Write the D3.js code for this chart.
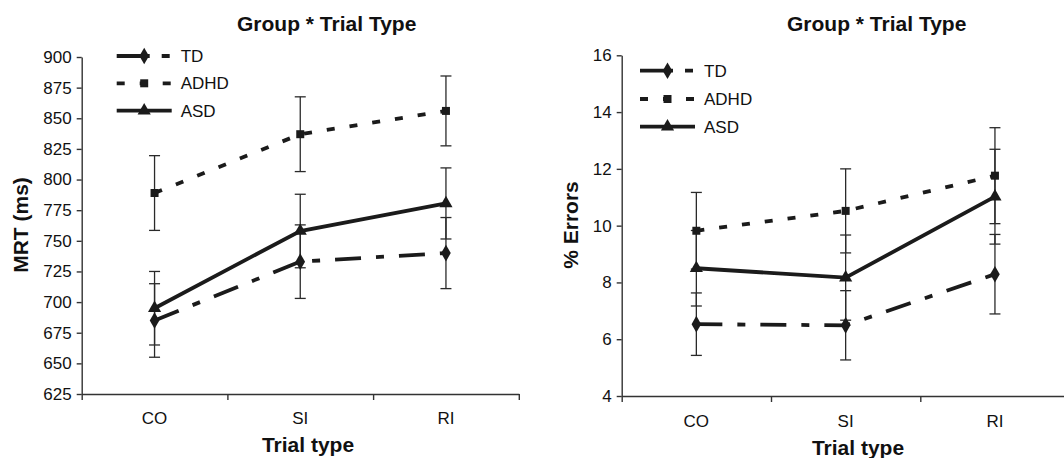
<!DOCTYPE html>
<html>
<head>
<meta charset="utf-8">
<script src="https://cdn.jsdelivr.net/npm/d3@7"></script>
<style>
body{margin:0;background:#fff}
svg{display:block;font-family:"Liberation Sans",Arial,sans-serif}
.axis path,.axis line{stroke:#333;stroke-width:1.4}
.axis text{font-size:17px;fill:#111;font-family:"Liberation Sans",Arial,sans-serif}
</style>
</head>
<body>
<div id="chart"></div>
<script>
var categories = ["CO","SI","RI"]
var groups = ["TD","ADHD","ASD"]

// left panel: mean reaction time (ms)
var rtTicks = [625,650,675,700,725,750,775,800,825,850,875,900]
var rtTD = [685,733,740]
var rtTDErr = [30,30,29]
var rtADHD = [789,837,856]
var rtADHDErr = [30.5,30.5,28.5]
var rtASD = [695,758,780.5]
var rtASDErr = [30,30,29]

// right panel: % errors
var errTicks = [4,6,8,10,12,14,16]
var errTD = [6.53,6.49,8.29]
var errTDErr = [1.1,1.22,1.4]
var errADHD = [9.82,10.52,11.76]
var errADHDErr = [1.35,1.48,1.69]
var errASD = [8.5,8.17,11.02]
var errASDErr = [1.33,1.5,1.67]

var width = 1064, height = 458
var ink = "#1b1b1b"
var styles = {
    "TD":{dash:"26,15,8,15",legendDash:"33,12,8,60",marker:d3.symbolDiamond,size:80},
    "ADHD":{dash:"8,15",legendDash:"8,15",marker:d3.symbolSquare,size:64},
    "ASD":{dash:null,legendDash:null,marker:d3.symbolTriangle,size:75}
}

var svg = d3.select("#chart").append("svg").attr("width",width).attr("height",height)

function drawPanel(p){
    var x = d3.scaleBand().domain(categories).range([p.left,p.left+p.band*3])
    var xEdge = d3.scaleLinear().domain([0,3]).range([p.left,p.left+p.band*3])
    var y = d3.scaleLinear().domain([p.ticks[0],p.ticks[p.ticks.length-1]]).range([p.bottom,p.top])
    var g = svg.append("g")

    var yAxis = d3.axisLeft(y).tickValues(p.ticks).tickSize(5).tickPadding(5).tickSizeOuter(0)
    g.append("g").attr("class","axis").attr("transform","translate("+p.left+",0)").call(yAxis)

    var xAxis = d3.axisBottom(xEdge).tickValues([0,1,2,3]).tickFormat("").tickSize(6).tickSizeOuter(0)
    g.append("g").attr("class","axis").attr("transform","translate(0,"+p.bottom+")").call(xAxis)

    g.selectAll(".cat").data(categories).enter().append("text")
        .attr("x",function(d){return x(d)+x.bandwidth()/2})
        .attr("y",p.bottom+p.catDy)
        .attr("text-anchor","middle").attr("font-size",17).attr("fill","#111")
        .text(function(d){return d})

    // error bars first
    p.series.forEach(function(s){
        var bars = g.append("g")
        categories.forEach(function(c,i){
            var cx = x(c)+x.bandwidth()/2
            var hi = y(s.values[i]+s.err[i]), lo = y(s.values[i]-s.err[i])
            bars.append("line").attr("x1",cx).attr("x2",cx).attr("y1",hi).attr("y2",lo)
                .attr("stroke","#2a2a2a").attr("stroke-width",1.3)
            ;[hi,lo].forEach(function(yy){
                bars.append("line").attr("x1",cx-5.5).attr("x2",cx+5.5).attr("y1",yy).attr("y2",yy)
                    .attr("stroke","#2a2a2a").attr("stroke-width",1.3)
            })
        })
    })

    var line = d3.line()
        .x(function(d,i){return x(categories[i])+x.bandwidth()/2})
        .y(function(d){return y(d)})

    p.series.forEach(function(s){
        var st = styles[s.name]
        g.append("path").datum(s.values).attr("d",line)
            .attr("fill","none").attr("stroke",ink).attr("stroke-width",3.8)
            .attr("stroke-dasharray",st.dash)
        g.selectAll(".m"+s.name).data(s.values).enter().append("path")
            .attr("d",d3.symbol().type(st.marker).size(st.size))
            .attr("transform",function(d,i){return "translate("+(x(categories[i])+x.bandwidth()/2)+","+y(d)+")"})
            .attr("fill",ink)
    })

    // legend
    groups.forEach(function(name,i){
        var st = styles[name]
        var ly = p.legendY[i]
        g.append("line").attr("x1",p.legendX).attr("x2",p.legendX+55).attr("y1",ly).attr("y2",ly)
            .attr("stroke",ink).attr("stroke-width",3.8).attr("stroke-dasharray",st.legendDash)
        g.append("path").attr("d",d3.symbol().type(st.marker).size(st.size))
            .attr("transform","translate("+(p.legendX+27.5)+","+ly+")").attr("fill",ink)
        g.append("text").attr("x",p.legendX+64).attr("y",ly).attr("dy","0.36em")
            .attr("font-size",17).attr("fill","#111").text(name)
    })

    g.append("text").attr("x",p.titleX).attr("y",31).attr("text-anchor","middle")
        .attr("font-size",21).attr("font-weight","bold").attr("fill","#111").text(p.title)
    g.append("text").attr("transform","translate("+p.yLabelX+","+225+") rotate(-90)")
        .attr("text-anchor","middle").attr("font-size",21).attr("font-weight","bold").attr("fill","#111")
        .text(p.yLabel)
    g.append("text").attr("x",p.xLabelX).attr("y",p.xLabelY).attr("text-anchor","middle")
        .attr("font-size",21).attr("font-weight","bold").attr("fill","#111").text("Trial type")
}

drawPanel({
    left:81.7,band:145.7,top:57,bottom:394,ticks:rtTicks,catDy:30,
    series:[{name:"TD",values:rtTD,err:rtTDErr},{name:"ADHD",values:rtADHD,err:rtADHDErr},{name:"ASD",values:rtASD,err:rtASDErr}],
    legendX:116.7,legendY:[56,83.3,110.7],
    title:"Group * Trial Type",titleX:326.7,
    yLabel:"MRT (ms)",yLabelX:28,xLabelX:308,xLabelY:452
})
drawPanel({
    left:621.7,band:149.3,top:55.3,bottom:396,ticks:errTicks,catDy:30.7,
    series:[{name:"TD",values:errTD,err:errTDErr},{name:"ADHD",values:errADHD,err:errADHDErr},{name:"ASD",values:errASD,err:errASDErr}],
    legendX:640,legendY:[70.7,99,126.7],
    title:"Group * Trial Type",titleX:876.7,
    yLabel:"% Errors",yLabelX:578,xLabelX:858,xLabelY:455
})
</script>
</body>
</html>
